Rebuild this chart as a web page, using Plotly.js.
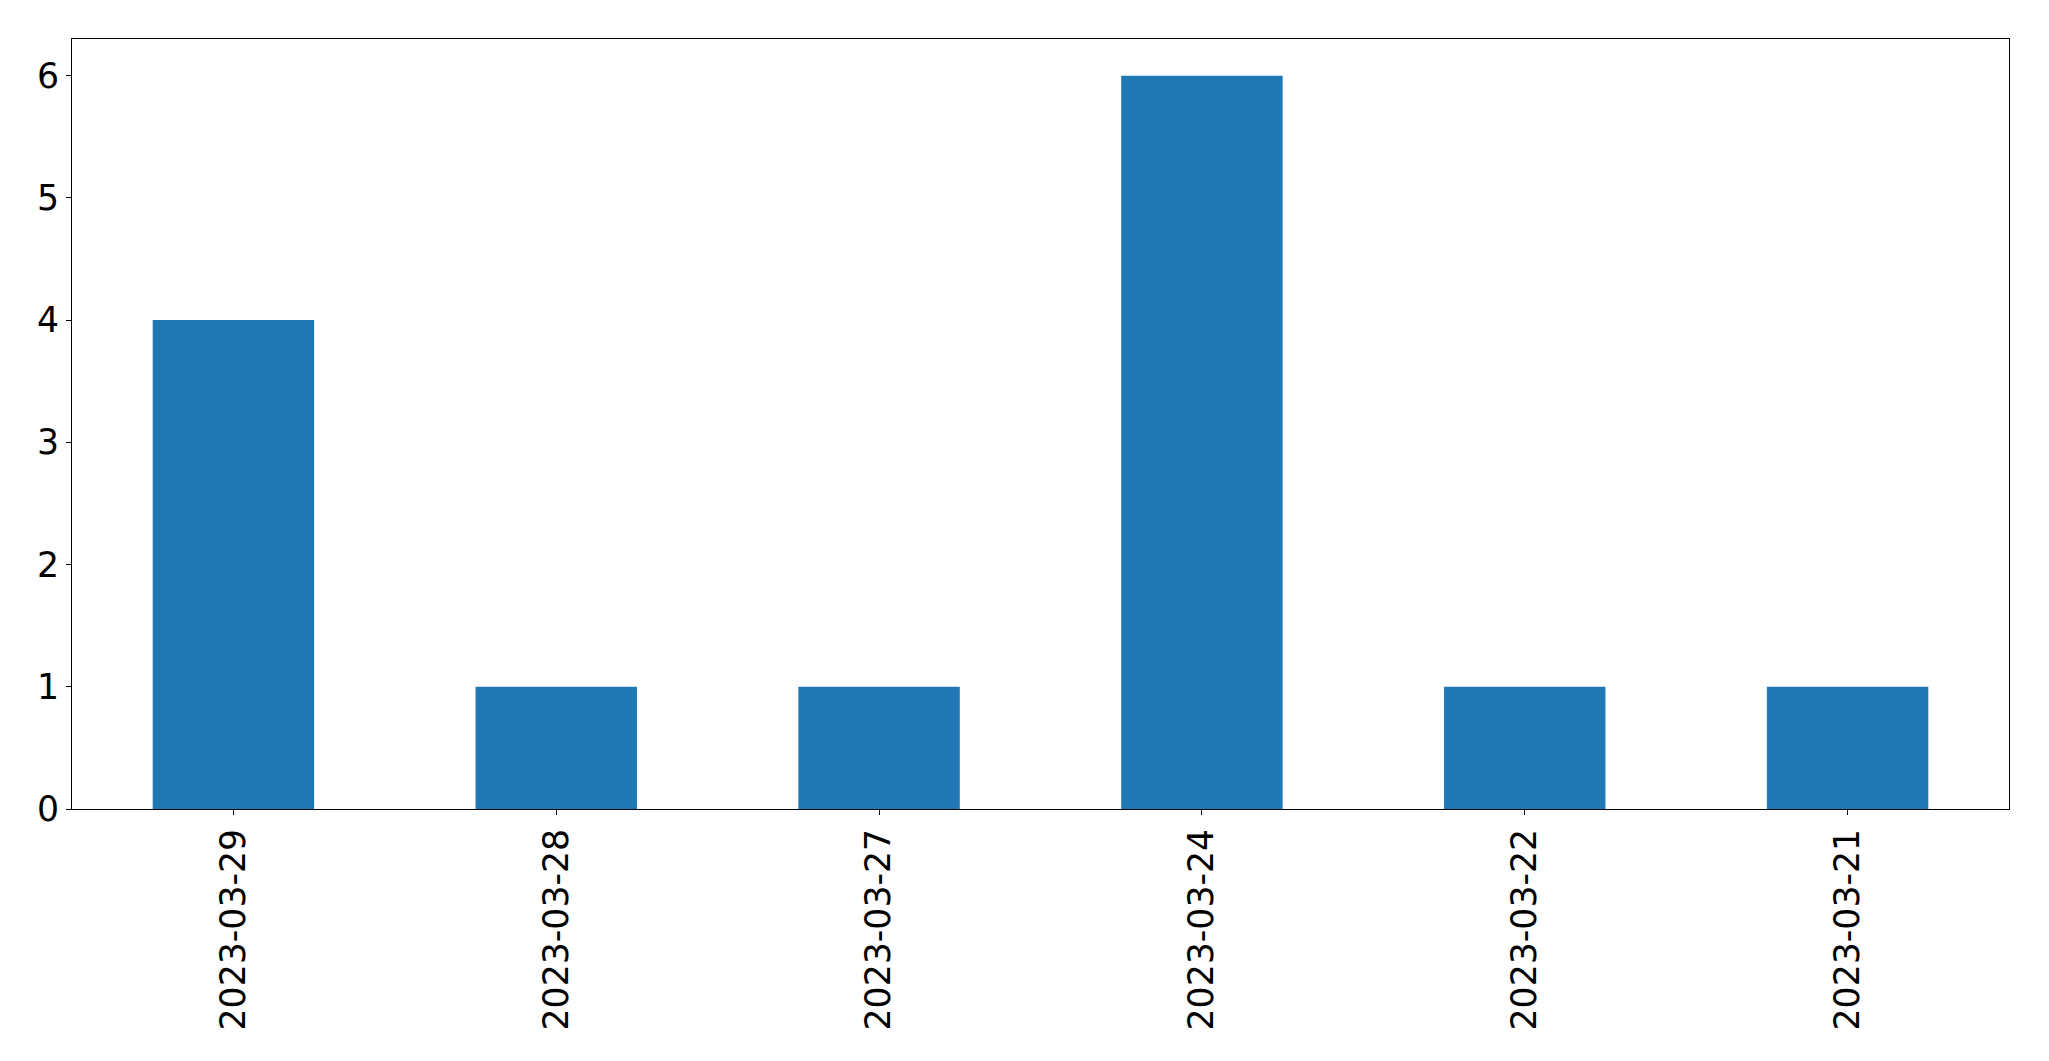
<!DOCTYPE html>
<html>
<head>
<meta charset="utf-8">
<script src="https://cdn.plot.ly/plotly-3.0.1.min.js"></script>
<style>html,body{margin:0;padding:0;background:#fff;}#chart{width:2049px;height:1061px;}</style>
</head>
<body>
<div id="chart"></div>
<script>
const categories = ["2023-03-29", "2023-03-28", "2023-03-27", "2023-03-24", "2023-03-22", "2023-03-21"];
const counts = [4, 1, 1, 6, 1, 1];
const yTicks = [0, 1, 2, 3, 4, 5, 6];

const trace = {
  type: 'bar',
  x: categories.map((_, i) => i),
  y: counts,
  width: 0.5,
  marker: {color: '#1f77b4', line: {width: 0}},
  hoverinfo: 'x+y'
};

const axisFont = {family: 'DejaVu Sans, sans-serif', size: 34.7, color: '#000'};

const layout = {
  width: 2049,
  height: 1061,
  margin: {l: 72, r: 40, t: 39, b: 252, pad: 0},
  paper_bgcolor: '#fff',
  plot_bgcolor: '#fff',
  showlegend: false,
  font: axisFont,
  xaxis: {
    range: [-0.5, 5.5],
    tickmode: 'array',
    tickvals: categories.map((_, i) => i),
    ticktext: categories,
    tickangle: -90,
    ticks: 'outside',
    ticklen: 5,
    tickwidth: 1,
    tickcolor: '#000',
    tickfont: axisFont,
    showgrid: false,
    zeroline: false,
    showline: true,
    linecolor: '#000',
    linewidth: 1,
    mirror: true,
    fixedrange: true
  },
  yaxis: {
    range: [0, 6.3],
    tickmode: 'array',
    tickvals: yTicks,
    ticktext: yTicks.map(String),
    ticks: 'outside',
    ticklen: 5,
    tickwidth: 1,
    tickcolor: '#000',
    tickfont: axisFont,
    showgrid: false,
    zeroline: false,
    showline: true,
    linecolor: '#000',
    linewidth: 1,
    mirror: true,
    fixedrange: true
  }
};

Plotly.newPlot('chart', [trace], layout, {displayModeBar: false, staticPlot: true});
</script>
</body>
</html>
